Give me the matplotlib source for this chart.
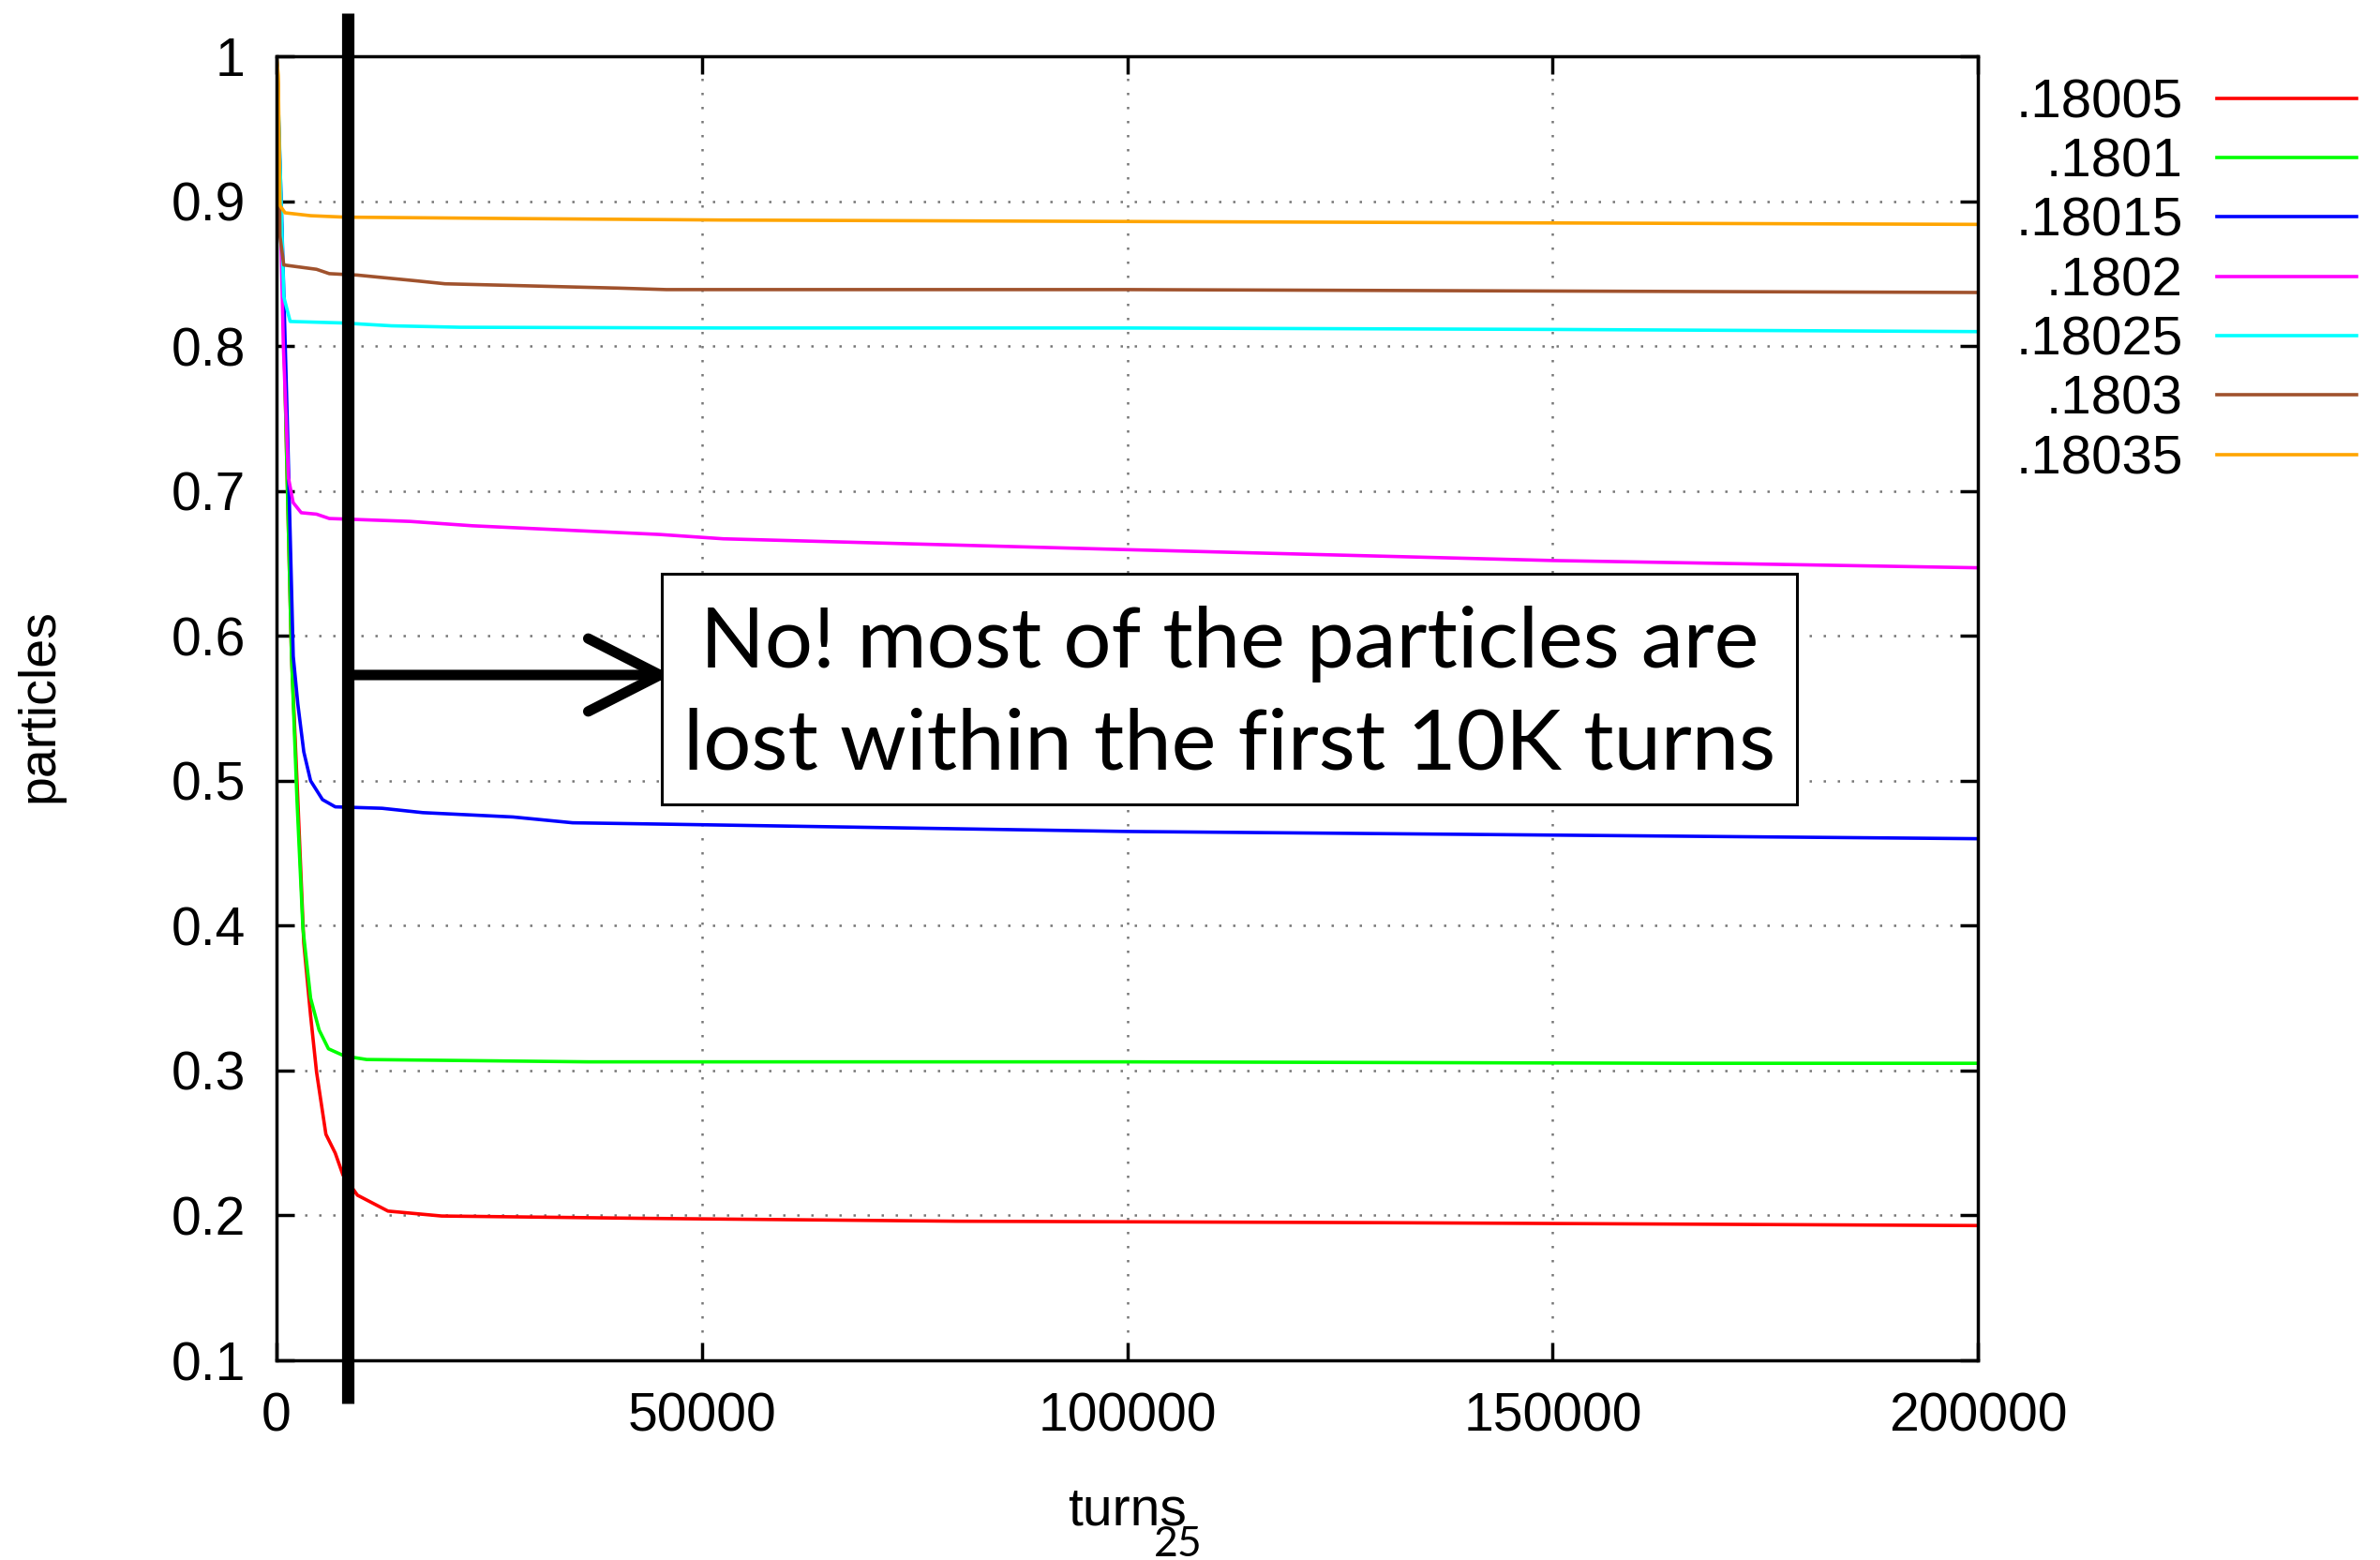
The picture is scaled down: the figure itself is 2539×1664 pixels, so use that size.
import matplotlib
matplotlib.use("Agg")
import matplotlib.pyplot as plt
from matplotlib.patches import Rectangle

plt.rcParams['font.family'] = ['Liberation Sans', 'DejaVu Sans']

# surviving particle fraction vs. turn number, one run per tune
labels = ['.18005', '.1801', '.18015', '.1802', '.18025', '.1803', '.18035']
colors = ['#ff0000', '#00ff00', '#0000ff', '#ff00ff', '#00ffff', '#a0522d', '#ffa500']

turns_18005 = [0, 600, 1200, 1760, 2500, 3200, 4000, 4700, 5800, 6900, 7800, 9500,
               13100, 19400, 43000, 80000, 130000, 165000, 200000]
frac_18005 = [1.0, 0.88, 0.72, 0.586, 0.487, 0.388, 0.338, 0.299, 0.256, 0.243, 0.228, 0.214,
              0.203, 0.1996, 0.198, 0.196, 0.195, 0.194, 0.193]

turns_1801 = [0, 600, 1200, 1760, 2400, 3100, 4000, 5000, 6100, 8000, 10600, 36600,
              100000, 165000, 200000]
frac_1801 = [1.0, 0.88, 0.72, 0.586, 0.487, 0.398, 0.35, 0.328, 0.315, 0.310, 0.3076, 0.306,
             0.306, 0.305, 0.305]

turns_18015 = [0, 600, 1300, 1960, 2500, 3200, 4000, 5400, 6900, 12400, 17200, 27800,
               34800, 46200, 100000, 150000, 200000]
frac_18015 = [1.0, 0.89, 0.74, 0.586, 0.553, 0.52, 0.5, 0.487, 0.482, 0.481, 0.478, 0.475,
              0.471, 0.470, 0.465, 0.4625, 0.460]

turns_1802 = [0, 300, 800, 1400, 1950, 2900, 4700, 6200, 15700, 23000, 34000, 45000,
              52500, 100000, 150000, 200000]
frac_1802 = [1.0, 0.93, 0.80, 0.709, 0.692, 0.685, 0.684, 0.681, 0.679, 0.676, 0.673, 0.670,
             0.667, 0.6595, 0.652, 0.647]

turns_18025 = [0, 300, 850, 1600, 7600, 13500, 21600, 52500, 100000, 150000, 200000]
frac_18025 = [1.0, 0.95, 0.834, 0.817, 0.816, 0.814, 0.813, 0.8125, 0.8125, 0.8115, 0.810]

turns_1803 = [0, 200, 400, 850, 4700, 6200, 9500, 16500, 19800, 26700, 40300, 45800,
              100000, 150000, 200000]
frac_1803 = [1.0, 0.98, 0.876, 0.856, 0.853, 0.850, 0.849, 0.845, 0.843, 0.842, 0.840, 0.839,
             0.839, 0.838, 0.837]

turns_18035 = [0, 200, 400, 1000, 4000, 8000, 28600, 52500, 100000, 150000, 200000]
frac_18035 = [1.0, 0.987, 0.897, 0.892, 0.890, 0.889, 0.888, 0.887, 0.886, 0.885, 0.884]

all_turns = [turns_18005, turns_1801, turns_18015, turns_1802, turns_18025, turns_1803, turns_18035]
all_frac = [frac_18005, frac_1801, frac_18015, frac_1802, frac_18025, frac_1803, frac_18035]

xticks = [0, 50000, 100000, 150000, 200000]
yticks = [0.1, 0.2, 0.3, 0.4, 0.5, 0.6, 0.7, 0.8, 0.9, 1.0]
ytick_labels = ['0.1', '0.2', '0.3', '0.4', '0.5', '0.6', '0.7', '0.8', '0.9', '1']

# marker line at ~8.4K turns and the arrow pointing at the note
cut_turn = 8400
arrow_y = 0.573

fig = plt.figure(figsize=(25.39, 16.64), dpi=100)
ax = fig.add_axes([0.1162, 0.128, 0.7149, 0.8359])

for t, f, c, lab in zip(all_turns, all_frac, colors, labels):
    ax.plot(t, f, color=c, lw=2.6, label=lab)

ax.set_xlim(0, 200000)
ax.set_ylim(0.1, 1.0)
ax.set_xticks(xticks)
ax.set_xticklabels([str(v) for v in xticks])
ax.set_yticks(yticks)
ax.set_yticklabels(ytick_labels)
ax.tick_params(direction='in', top=True, right=True, length=14, width=2.5,
               labelsize=41, pad=24)
for s in ax.spines.values():
    s.set_linewidth(2.5)
ax.grid(True, linestyle=(0, (1, 5)), color='#777777', lw=1.8)

ax.set_xlabel('turns', fontsize=41)
ax.set_ylabel('particles', fontsize=40)
ax.xaxis.set_label_coords(0.5, -0.096)
ax.yaxis.set_label_coords(-0.125, 0.502)

ax.legend(loc='upper right', bbox_to_anchor=(0.99, 0.950), bbox_transform=fig.transFigure,
          frameon=False, markerfirst=False, fontsize=42, handlelength=2.55,
          handletextpad=0.62, labelspacing=0.16, borderpad=0, borderaxespad=0)

# thick vertical marker and arrow
ax.plot([cut_turn, cut_turn], [1.03, 0.07], color='black', lw=9.5,
        solid_capstyle='butt', clip_on=False, zorder=10)
ax.annotate('', xy=(46400, arrow_y), xytext=(cut_turn + 400, arrow_y),
            arrowprops=dict(arrowstyle='->,head_length=0.55,head_width=0.28',
                            lw=8, color='black', mutation_scale=100,
                            shrinkA=0, shrinkB=0), zorder=11)

# boxed note
bx0, by0, bx1, by1 = 706 / 2539, 1 - 858 / 1664, 1917 / 2539, 1 - 612 / 1664
fig.patches.append(Rectangle((bx0, by0), bx1 - bx0, by1 - by0, transform=fig.transFigure,
                             facecolor='white', edgecolor='black', lw=2.2, zorder=12))
fig.text((bx0 + bx1) / 2, (by0 + by1) / 2 - 0.004,
         'No! most of the particles are\nlost within the first 10K turns',
         ha='center', va='center', fontsize=65, family=['Lato', 'DejaVu Sans'],
         linespacing=1.4, zorder=13)

fig.text(1257 / 2539, 1 - 1647 / 1664, '25', ha='center', va='center', fontsize=32,
         family=['Lato', 'DejaVu Sans'])

fig.savefig('out.png', dpi=100)
